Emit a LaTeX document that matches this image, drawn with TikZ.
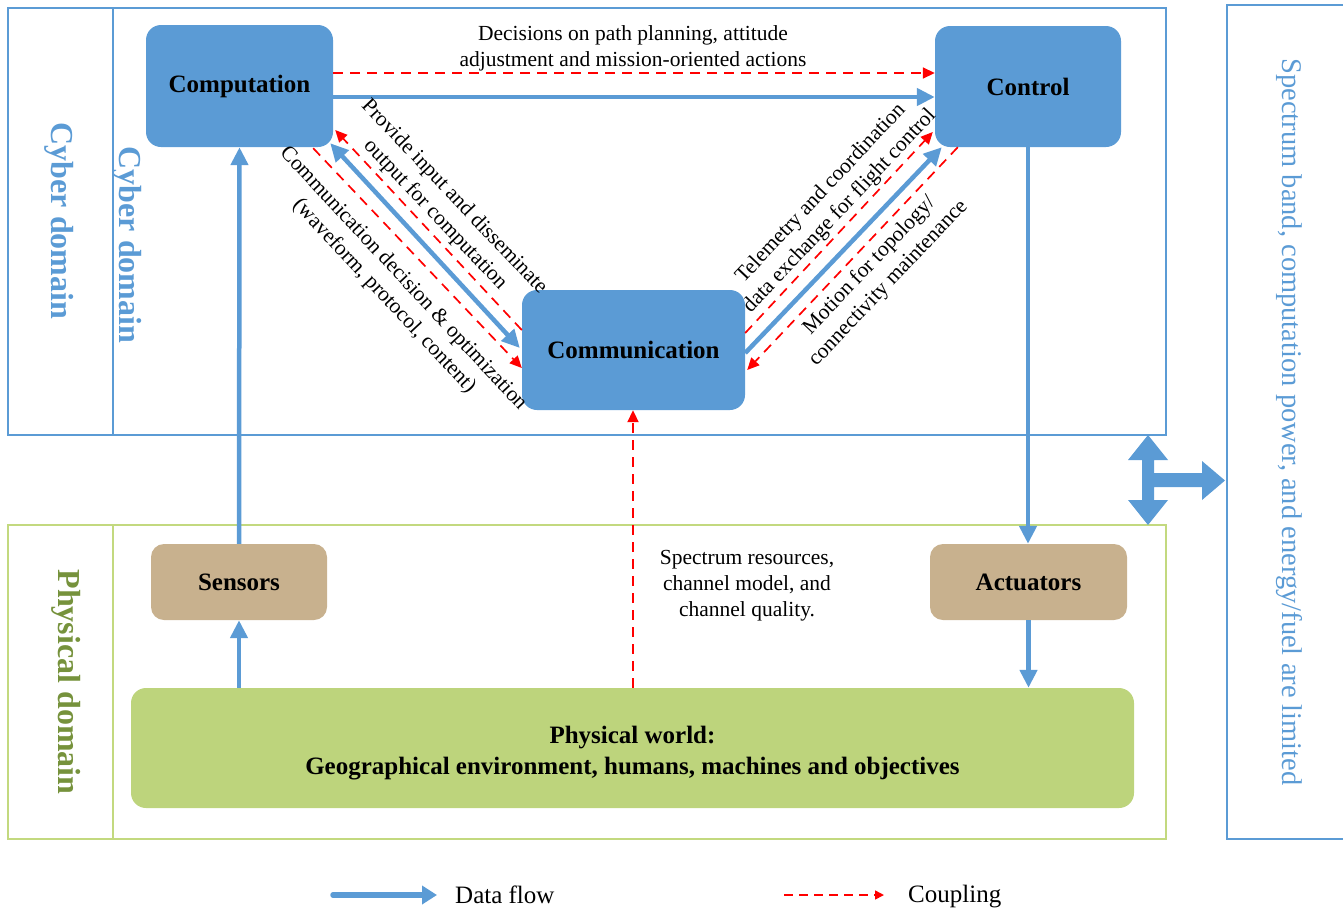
\documentclass[tikz,border=0pt]{standalone}
\usepackage{fontspec}
\setmainfont{Liberation Serif}
\usetikzlibrary{arrows.meta,calc}
\definecolor{cblue}{HTML}{5B9BD5}
\definecolor{ctan}{HTML}{C8B18E}
\definecolor{cgreen}{HTML}{BDD47C}
\definecolor{gborder}{HTML}{C3D97F}
\definecolor{colive}{HTML}{76923C}
\tikzset{
  bluebox/.style={fill=cblue, rounded corners=15pt, inner sep=0pt, font=\fontsize{25}{30}\selectfont\bfseries},
  tanbox/.style={fill=ctan, rounded corners=13pt, inner sep=0pt, font=\fontsize{25}{30}\selectfont\bfseries},
  greenbox/.style={fill=cgreen, rounded corners=15pt, inner sep=0pt, align=center, font=\fontsize{25}{31}\selectfont\bfseries},
  flow/.style={cblue, line width=4.5pt, -{Triangle[length=18pt,width=17pt]}},
  coup/.style={red, line width=1.7pt, dash pattern=on 10pt off 7pt, -{Triangle[length=12pt,width=11pt]}},
  lbl/.style={font=\fontsize{21.5}{26}\selectfont, align=center, inner sep=0pt},
  domlbl/.style={font=\fontsize{32}{36}\selectfont\bfseries, rotate=-90, inner sep=0pt},
  legtxt/.style={font=\fontsize{25}{30}\selectfont, anchor=west, inner sep=0pt}
}
\begin{document}
\begin{tikzpicture}[x=1pt,y=-1pt]
\useasboundingbox (0,0) rectangle (1343,911);
% domain frames
\draw[cblue, line width=2pt] (8,8) rectangle (1166,435);
\draw[cblue, line width=2pt] (113,8) -- (113,435);
\draw[gborder, line width=2pt] (8,525) rectangle (1166,839);
\draw[gborder, line width=2pt] (113,525) -- (113,839);
\draw[cblue, line width=2pt] (1227,5) rectangle (1360,839);
% domain labels
\node[domlbl, text=cblue] (cyb1) at (59,221) {Cyber domain};
\node[domlbl, text=cblue] (cyb2) at (127,245) {Cyber domain};
\node[domlbl, text=colive] (phy) at (66,682) {Physical domain};
\node[font=\fontsize{28.5}{32}\selectfont, text=cblue, rotate=-90, inner sep=0pt] (lim) at (1289,422)
  {Spectrum band, computation power, and energy/fuel are limited};
% nodes
\node[bluebox, minimum width=187pt, minimum height=122pt] (comp) at (239.5,86) {Computation};
\node[bluebox, minimum width=186pt, minimum height=121pt] (ctrl) at (1028,86.5) {Control};
\node[bluebox, minimum width=223pt, minimum height=120pt] (comm) at (633.5,350) {Communication};
\node[tanbox, minimum width=176pt, minimum height=76pt] (sens) at (239,582) {Sensors};
\node[tanbox, minimum width=197pt, minimum height=76pt] (act) at (1028.5,582) {Actuators};
\node[greenbox, minimum width=1003pt, minimum height=120pt] (phys) at (632.5,748) {};
\node[align=center, inner sep=0pt, font=\fontsize{25}{31}\selectfont\bfseries] (physt) at (632.5,753)
  {Physical world:\hspace{0.5em}\\Geographical environment, humans, machines and objectives};
% computation -> control
\draw[coup] ([yshift=13pt]comp.east) -- ([yshift=13pt]comp.east -| ctrl.west);
\draw[flow] ([yshift=-11pt]comp.east) -- ([yshift=-11pt]comp.east -| ctrl.west);
\node[lbl] (declbl) at (633,48) {Decisions on path planning, attitude\\adjustment and mission-oriented actions};
% vertical flows
\draw[flow] (sens.north) -- (comp.south);
\draw[flow] (sens.south |- phys.north) -- (sens.south);
\draw[flow] (ctrl.south) -- (ctrl.south |- act.north);
\draw[flow] (act.south) -- (act.south |- phys.north);
\draw[coup, line width=2pt] ([xshift=-0.5pt]comm.south |- phys.north) -- ([xshift=-0.5pt]comm.south);
\node[lbl] (speclbl) at (747,586) {Spectrum resources,\\channel model, and\\channel quality.};
% computation <-> communication
\draw[cblue, line width=4.5pt, {Triangle[length=18pt,width=17pt]}-{Triangle[length=18pt,width=17pt]}]
  ([shift={(-3,-4)}]comp.south east) -- ([shift={(-2,-2)}]comm.west);
\draw[coup] ([shift={(0,-20)}]comm.west) -- ([shift={(2,44)}]comp.east);
\draw[coup] ([shift={(-20,1)}]comp.south east) -- ([shift={(0,18)}]comm.west);
\node[lbl, rotate=-46.5] (l1) at (444.5,206) {Provide input and disseminate\\output for computation};
\node[lbl, rotate=-47] (l2) at (393.5,287.5) {Communication decision \& optimization\\(waveform, protocol, content)};
% communication <-> control
\draw[flow] ([shift={(0,3)}]comm.east) -- ([shift={(7,0)}]ctrl.south west);
\draw[coup] ([shift={(0,-17)}]comm.east) -- ([shift={(-2,45.5)}]ctrl.west);
\draw[coup] ([shift={(23,0)}]ctrl.south west) -- ([shift={(2,20)}]comm.east);
\node[lbl, rotate=46.8] (l3) at (830.5,202.5) {Telemetry and coordination\\data exchange for flight control};
\node[lbl, rotate=46.5] (l4) at (879,274.5) {Motion for topology/\\connectivity maintenance};
% double arrow
\fill[cblue] (1148,435) -- (1168,460) -- (1154,460) -- (1154,473) -- (1202,473) -- (1202,461)
  -- (1225,480.5) -- (1202,500) -- (1202,487) -- (1154,487) -- (1154,500) -- (1168,500)
  -- (1148,525) -- (1128,500) -- (1142,500) -- (1142,460) -- (1128,460) -- cycle;
% legend
\coordinate (la) at (333,895);
\coordinate (lb) at (437,895);
\draw[cblue, line width=5.5pt, line cap=round, -{Triangle[length=15pt,width=18pt]}] (la) -- (lb);
\node[legtxt] (ldf) at (455,895) {Data flow};
\coordinate (lc) at (784,895);
\coordinate (ld) at (884,895);
\draw[red, line width=1.6pt, dash pattern=on 9pt off 6pt, -{Triangle[length=9pt,width=9pt]}] (lc) -- (ld);
\node[legtxt] (lcp) at (908,897) {Coupling};
\end{tikzpicture}
\end{document}
